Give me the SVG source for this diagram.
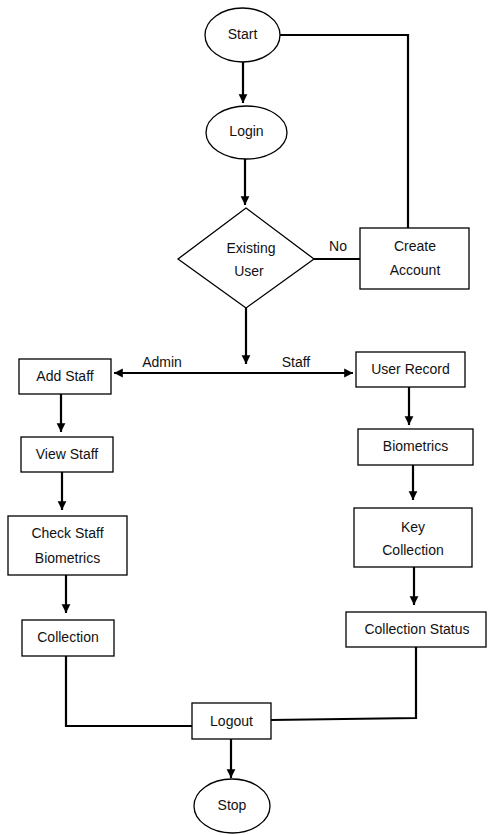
<svg xmlns="http://www.w3.org/2000/svg" width="488" height="835" viewBox="0 0 488 835">
<style>
.shape{fill:#fff;stroke:#000;stroke-width:1.3}
.edge{fill:none;stroke:#000;stroke-width:2.2}
text{font-family:"Liberation Sans",Arial,sans-serif;font-size:14px;fill:#111;text-anchor:middle;dominant-baseline:central}
</style>
<defs>
<marker id="arr" viewBox="0 0 10 10" refX="10" refY="5" markerWidth="4" markerHeight="4.5" orient="auto" markerUnits="strokeWidth">
<path d="M0,0 L10,5 L0,10 z" fill="#000"/>
</marker>
</defs>
<rect width="488" height="835" fill="#fff"/>
<g id="connectors">
<path class="edge" d="M280,35 H408 V228"/>
<path class="edge" d="M243,62 V103" marker-end="url(#arr)"/>
<path class="edge" d="M245,159 V205" marker-end="url(#arr)"/>
<path class="edge" d="M314,259 H360"/>
<path class="edge" d="M246,308 V364" marker-end="url(#arr)"/>
<path class="edge" d="M246,373 H114" marker-end="url(#arr)"/>
<path class="edge" d="M246,373 H353" marker-end="url(#arr)"/>
<path class="edge" d="M61,394 V432" marker-end="url(#arr)"/>
<path class="edge" d="M62,472 V510" marker-end="url(#arr)"/>
<path class="edge" d="M66,575 V613" marker-end="url(#arr)"/>
<path class="edge" d="M66,656 V726 H192"/>
<path class="edge" d="M409,387 V425" marker-end="url(#arr)"/>
<path class="edge" d="M413,465 V500" marker-end="url(#arr)"/>
<path class="edge" d="M414,567 V605" marker-end="url(#arr)"/>
<path class="edge" d="M271,720 L416,718 V647"/>
<path class="edge" d="M231,739 V778" marker-end="url(#arr)"/>
<text x="162" y="362">Admin</text>
<text x="296" y="362">Staff</text>
<text x="338" y="246">No</text>
</g>
<g id="start"><ellipse class="shape" cx="242.5" cy="35" rx="37.5" ry="27"/><text x="242.5" y="34">Start</text></g>
<g id="login"><ellipse class="shape" cx="246.5" cy="132.5" rx="40.5" ry="26.5"/><text x="246.5" y="131">Login</text></g>
<g id="existing-user"><polygon class="shape" points="246,208 314,259 246,308 178,259"/><text x="251" y="248">Existing</text><text x="249" y="271">User</text></g>
<g id="create-account"><rect class="shape" x="360" y="228" width="109" height="61"/><text x="415" y="246">Create</text><text x="415" y="270">Account</text></g>
<g id="add-staff"><rect class="shape" x="19" y="359" width="92" height="35"/><text x="65" y="376">Add Staff</text></g>
<g id="view-staff"><rect class="shape" x="21" y="437" width="92" height="35"/><text x="67" y="454">View Staff</text></g>
<g id="check-staff-biometrics"><rect class="shape" x="8" y="516" width="119" height="59"/><text x="67.5" y="533">Check Staff</text><text x="67.5" y="558">Biometrics</text></g>
<g id="collection"><rect class="shape" x="22" y="620" width="92" height="36"/><text x="68" y="637">Collection</text></g>
<g id="user-record"><rect class="shape" x="356" y="352" width="109" height="35"/><text x="410.5" y="369">User Record</text></g>
<g id="biometrics"><rect class="shape" x="358" y="429" width="115" height="36"/><text x="415.5" y="446">Biometrics</text></g>
<g id="key-collection"><rect class="shape" x="354" y="508" width="118" height="59"/><text x="413" y="527">Key</text><text x="413" y="550">Collection</text></g>
<g id="collection-status"><rect class="shape" x="346" y="612" width="140" height="35"/><text x="417" y="629">Collection Status</text></g>
<g id="logout"><rect class="shape" x="192" y="703" width="79" height="36"/><text x="231.5" y="721">Logout</text></g>
<g id="stop"><ellipse class="shape" cx="232" cy="806" rx="38" ry="27"/><text x="232" y="805">Stop</text></g>
</svg>
